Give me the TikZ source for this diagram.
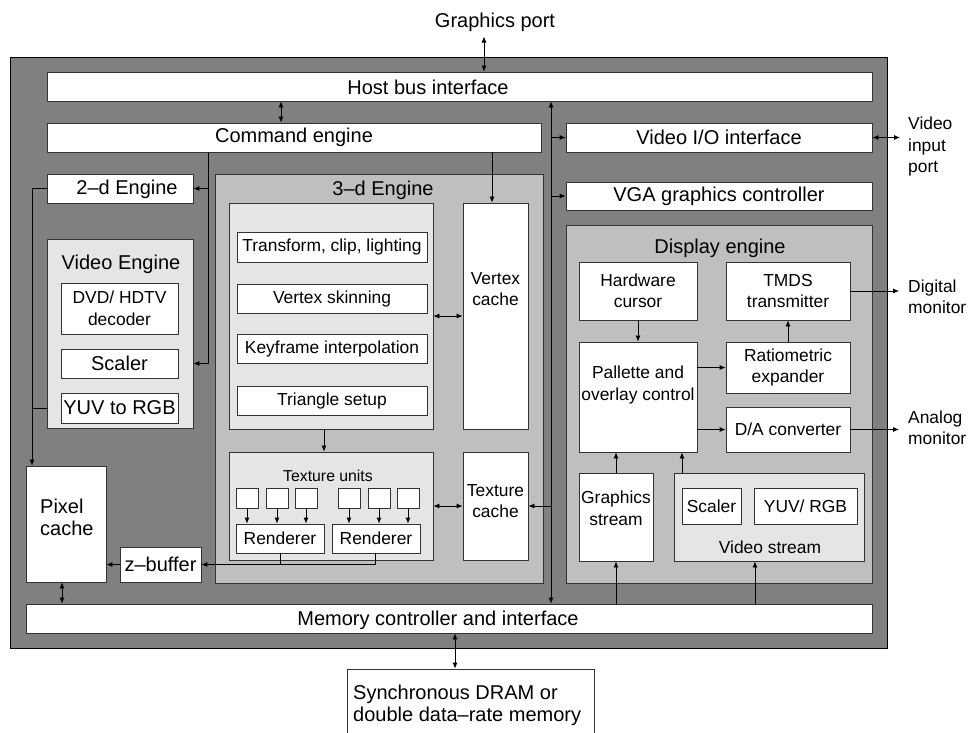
\documentclass[tikz,border=0pt]{standalone}
\usepackage{fontspec}
\setmainfont{Liberation Sans}
\usetikzlibrary{arrows.meta}
\definecolor{chipgray}{gray}{0.5}
\definecolor{unitgray}{gray}{0.75}
\definecolor{panelgray}{gray}{0.9}
\definecolor{edgegray}{gray}{0.2}
\newcommand{\largetxt}{\fontsize{20}{22}\selectfont}
\newcommand{\smalltxt}{\fontsize{17.4}{21.5}\selectfont}
\newcommand{\tinytxt}{\fontsize{15.8}{19}\selectfont}
\tikzset{wh/.style 2 args = {minimum width=#1, minimum height=#2},
         chip/.style = {draw=black, fill=chipgray, line width=1pt, inner sep=0pt},
         unit/.style = {draw=edgegray, fill=unitgray, line width=0.8pt, inner sep=0pt},
         panel/.style = {draw=edgegray, fill=panelgray, line width=0.8pt, inner sep=0pt},
         block/.style = {draw=edgegray, fill=white, line width=0.8pt, inner sep=0pt,
                         align=center, font=\largetxt},
         sq/.style = {block, wh={22}{20}},
         txt/.style = {inner sep=0pt, align=center, font=\largetxt},
         stxt/.style = {inner sep=0pt, align=center, font=\smalltxt},
         ttxt/.style = {inner sep=0pt, align=center, font=\tinytxt},
         link/.style = {line width=0.8pt}}

\begin{document}
\begin{tikzpicture}[x=1pt, y=-1pt, >={Latex[length=6pt, width=5pt]}]
    \useasboundingbox (0, 0) rectangle (969, 732);
    \node [chip, wh={877}{591}] (chip) at (448.5, 352.5) {};
    \node [block, wh={825}{29}] (host) at (459.5, 86.5) {};
    \node [txt] (hosttxt) at (428, 87) {Host bus interface};
    \node [block, wh={494}{29}] (cmd) at (294, 137.5) {Command engine};
    \node [block, wh={306}{29}] (vio) at (719, 137.5) {Video I/O interface};
    \node [block, wh={306}{28}] (vga) at (719, 196) {VGA graphics controller};
    \node [block, wh={146}{29}] (twod) at (120, 188.5) {};
    \node [txt] (twodtxt) at (127, 189) {2--d Engine};
    \node [panel, wh={146}{189}] (vengine) at (120, 333.5) {};
    \node [txt] (vetitle) at (121, 264) {Video Engine};
    \node [block, wh={117}{51}, font=\smalltxt] (dvd) at (119.5, 308.5) {DVD/ HDTV\\decoder};
    \node [block, wh={117}{29}] (vscaler) at (119.5, 363.5) {Scaler};
    \node [block, wh={117}{30}] (yuv) at (119.5, 408) {YUV to RGB};
    \node [unit, wh={328}{409}] (tde) at (379, 378.5) {};
    \node [txt] (tdetitle) at (383, 190) {3--d Engine};
    \node [panel, wh={204}{226}] (geom) at (331, 316) {};
    \node [block, wh={190}{30}, font=\smalltxt] (xform) at (332, 247) {Transform, clip, lighting};
    \node [block, wh={190}{29}, font=\smalltxt] (skin) at (332, 298.5) {Vertex skinning};
    \node [block, wh={190}{29}, font=\smalltxt] (key) at (332, 348.5) {Keyframe interpolation};
    \node [block, wh={190}{29}, font=\smalltxt] (tri) at (332, 400.5) {Triangle setup};
    \node [block, wh={65}{226}] (vcache) at (495.5, 316) {};
    \node [stxt] (vcachetxt) at (495.5, 289) {Vertex\\cache};
    \node [panel, wh={204}{108}] (tunits) at (331, 506) {};
    \node [ttxt] (tunitstxt) at (328, 476) {Texture units};
    \foreach \i/\x in {1/247, 2/277, 3/306, 4/349, 5/379, 6/408}
        \node [sq] (sq\i) at (\x, 498) {};
    \node [block, wh={88}{29}, font=\smalltxt] (rend1) at (280, 538.5) {Renderer};
    \node [block, wh={88}{29}, font=\smalltxt] (rend2) at (376, 538.5) {Renderer};
    \node [block, wh={65}{108}] (tcache) at (495.5, 506) {};
    \node [stxt] (tcachetxt) at (495.5, 501) {Texture\\cache};
    \node [block, wh={80}{116}] (pixel) at (66, 524) {};
    \node [txt, align=left, anchor=west] (pixeltxt) at (40, 517) {Pixel\\cache};
    \node [block, wh={81}{35}] (zbuf) at (160.5, 564.5) {z--buffer};
    \node [block, wh={846}{29}] (mem) at (449, 618.5) {};
    \node [txt] (memtxt) at (438, 620) {Memory controller and interface};
    \node [block, wh={247}{76}] (sdram) at (470.5, 707) {};
    \node [txt, align=left, anchor=west] (sdramtxt) at (353, 705) {Synchronous DRAM or\\double data--rate memory};
    \node [unit, wh={306}{358}] (disp) at (719, 404) {};
    \node [txt] (disptitle) at (720, 248) {Display engine};
    \node [block, wh={118}{58}, font=\smalltxt] (hwc) at (638, 291) {Hardware\\cursor};
    \node [block, wh={124}{58}, font=\smalltxt] (tmds) at (788, 291) {TMDS\\transmitter};
    \node [block, wh={118}{110}] (pal) at (638, 397) {};
    \node [stxt] (paltxt) at (638, 385) {Pallette and\\overlay control};
    \node [block, wh={124}{51}, font=\smalltxt] (ratio) at (788, 367.5) {Ratiometric\\expander};
    \node [block, wh={124}{45}, font=\smalltxt] (dac) at (788, 429.5) {D/A converter};
    \node [block, wh={74}{88}] (gstream) at (616, 517) {};
    \node [stxt] (gstreamtxt) at (616, 508.5) {Graphics\\stream};
    \node [panel, wh={190}{88}] (vstream) at (769, 517) {};
    \node [block, wh={59}{36}, font=\smalltxt] (sscaler) at (711.5, 506) {Scaler};
    \node [block, wh={103}{36}, font=\smalltxt] (yuvrgb) at (805.5, 506) {YUV/ RGB};
    \node [stxt] (vstreamtxt) at (770, 547) {Video stream};
    \node [txt] (gport) at (495, 22) {Graphics port};
    \node [stxt, align=left, anchor=west] (vinport) at (908, 146.5) {Video\\input\\port};
    \node [stxt, align=left, anchor=west] (digmon) at (908, 297) {Digital\\monitor};
    \node [stxt, align=left, anchor=west] (anmon) at (908, 428) {Analog\\monitor};
    \coordinate (gpx) at (484, 0);
    \coordinate (hcx) at (281, 0);
    \coordinate (busx) at (551, 0);
    \coordinate (lcx) at (208, 0);
    \coordinate (vcx) at (492, 0);
    \coordinate (pxx) at (32, 0);
    \coordinate (pmx) at (62, 0);
    \coordinate (mdx) at (455, 0);
    \coordinate (geomx) at (324, 0);
    \coordinate (rx1) at (280, 0);
    \coordinate (rx2) at (375, 0);
    \coordinate (vsx) at (682, 0);
    \coordinate (vmx) at (755, 0);
    \draw [link, <->, shorten <=5pt] (gport.south -| gpx) -- (host.north -| gpx);
    \draw [link, <->] (host.south -| hcx) -- (cmd.north -| hcx);
    \draw [link, <->] (host.south -| busx) -- (mem.north -| busx);
    \draw [link, ->] (vio.west -| busx) -- (vio.west);
    \draw [link, ->] (vga.west -| busx) -- (vga.west);
    \draw [link, ->] (tcache.east -| busx) -- (tcache.east);
    \draw [link, <->, shorten >=8pt] (vio.east) -- (vio.east -| vinport.west);
    \draw [link, ->] (cmd.south -| lcx) |- (vscaler.east -| vengine.east);
    \draw [link, ->] (twod.east -| lcx) -- (twod.east);
    \draw [link, ->] (cmd.south -| vcx) -- (vcache.north -| vcx);
    \draw [link, ->] (twod.west) -| (pixel.north -| pxx);
    \draw [link] (yuv.west -| vengine.west) -- (yuv.west -| pxx);
    \draw [link, <->] (geom.east) -- (vcache.west);
    \draw [link, ->] (geom.south -| geomx) -- (tunits.north -| geomx);
    \draw [link, <->] (tunits.east) -- (tcache.west);
    \foreach \i in {1, 2, 3}
        \draw [link, ->] (sq\i) -- (sq\i |- rend1.north);
    \foreach \i in {4, 5, 6}
        \draw [link, ->] (sq\i) -- (sq\i |- rend2.north);
    \draw [link] (rend1.south -| rx1) -- (rx1 |- zbuf.east);
    \draw [link, ->] (rend2.south -| rx2) |- (zbuf.east);
    \draw [link, ->] (zbuf.west) -- (zbuf.west -| pixel.east);
    \draw [link, <->] (pixel.south -| pmx) -- (mem.north -| pmx);
    \draw [link, <->] (mem.south -| mdx) -- (sdram.north -| mdx);
    \draw [link, ->] (hwc.south) -- (hwc.south |- pal.north);
    \draw [link, ->] (ratio.north) -- (tmds.south);
    \draw [link, ->] (pal.east |- ratio.west) -- (ratio.west);
    \draw [link, ->] (pal.east |- dac.west) -- (dac.west);
    \draw [link, ->, shorten >=9pt] (tmds.east) -- (tmds.east -| digmon.west);
    \draw [link, ->, shorten >=9pt] (dac.east) -- (dac.east -| anmon.west);
    \draw [link, ->] (gstream.north) -- (gstream.north |- pal.south);
    \draw [link, ->] (vstream.north -| vsx) -- (pal.south -| vsx);
    \draw [link, ->] (mem.north -| gstream.south) -- (gstream.south);
    \draw [link, ->] (mem.north -| vmx) -- (vstream.south -| vmx);
\end{tikzpicture}
\end{document}
